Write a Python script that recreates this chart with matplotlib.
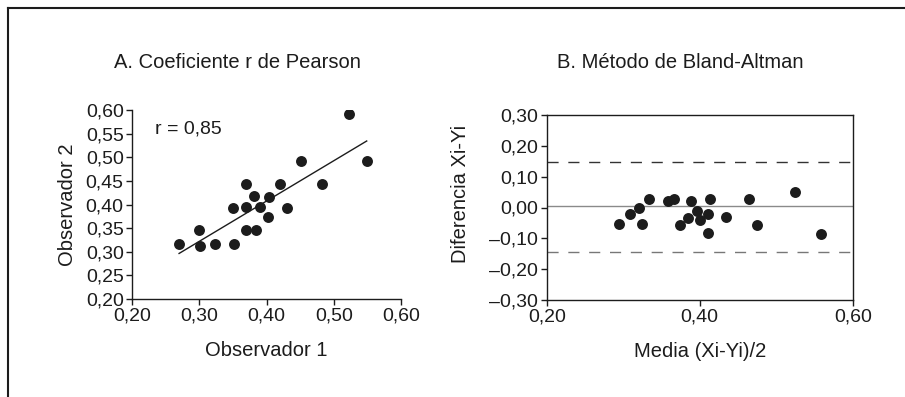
import matplotlib
matplotlib.use("Agg")
import matplotlib.pyplot as plt
import numpy as np
from matplotlib.lines import Line2D
from matplotlib.ticker import FuncFormatter, MultipleLocator

plt.rcParams["font.family"] = ["Liberation Sans", "DejaVu Sans"]

# Panel A: observer 1 vs observer 2
obs1 = [0.270, 0.300, 0.301, 0.323, 0.351, 0.350, 0.370, 0.370, 0.370, 0.381,
        0.385, 0.391, 0.403, 0.402, 0.420, 0.430, 0.451, 0.482, 0.522, 0.549]
obs2 = [0.316, 0.347, 0.313, 0.316, 0.316, 0.393, 0.444, 0.395, 0.347, 0.418,
        0.347, 0.395, 0.415, 0.374, 0.444, 0.392, 0.493, 0.444, 0.591, 0.493]
r_label = "r = 0,85"

# Panel B: Bland-Altman
ba_mean = [0.294, 0.309, 0.321, 0.324, 0.334, 0.358, 0.366, 0.374, 0.385, 0.388,
           0.396, 0.400, 0.411, 0.411, 0.414, 0.434, 0.465, 0.475, 0.524, 0.559]
ba_diff = [-0.054, -0.021, -0.001, -0.055, 0.026, 0.022, 0.026, -0.056, -0.033, 0.022,
           -0.010, -0.041, -0.021, -0.084, 0.026, -0.032, 0.026, -0.058, 0.050, -0.086]
mean_diff = 0.004
loa_upper = 0.148
loa_lower = -0.144

ink = "#1c1c1c"


def comma_fmt(v, pos):
    if abs(v) < 1e-9:
        v = 0.0
    return f"{v:.2f}".replace(".", ",").replace("-", "\u2013")


fig = plt.figure(figsize=(9.05, 3.97), dpi=100)

# ---- A ----
ax1 = fig.add_axes([132 / 905, 1 - 299 / 397, 269 / 905, 189 / 397])
ax1.scatter(obs1, obs2, s=62, color=ink, zorder=3, linewidths=0)
slope, intercept = np.polyfit(obs1, obs2, 1)
xs = np.array([min(obs1), max(obs1)])
ax1.plot(xs, slope * xs + intercept, color=ink, lw=1)
ax1.text(0.234, 0.551, r_label, fontsize=14, color=ink, va="baseline")

ax1.set_xlim(0.20, 0.60)
ax1.set_ylim(0.20, 0.60)
ax1.xaxis.set_major_locator(MultipleLocator(0.10))
ax1.yaxis.set_major_locator(MultipleLocator(0.05))
ax1.spines[["top", "right"]].set_visible(False)
ax1.set_xlabel("Observador 1", fontsize=14.5, color=ink, labelpad=12)
ax1.set_ylabel("Observador 2", fontsize=14.5, color=ink, labelpad=6)

# ---- B ----
ax2 = fig.add_axes([546.7 / 905, 1 - 300 / 397, 306 / 905, 185 / 397])
ax2.scatter(ba_mean, ba_diff, s=62, color=ink, zorder=3, linewidths=0)
ax2.axhline(mean_diff, color="#8a8a8a", lw=1)
ax2.axhline(loa_upper, color="#333333", lw=1, ls=(0, (8, 7)))
ax2.axhline(loa_lower, color="#777777", lw=1, ls=(0, (8, 7)))

ax2.set_xlim(0.20, 0.60)
ax2.set_ylim(-0.30, 0.30)
ax2.xaxis.set_major_locator(MultipleLocator(0.20))
ax2.yaxis.set_major_locator(MultipleLocator(0.10))
ax2.set_xlabel("Media (Xi-Yi)/2", fontsize=14.5, color=ink, labelpad=12)

for ax in (ax1, ax2):
    ax.xaxis.set_major_formatter(FuncFormatter(comma_fmt))
    ax.yaxis.set_major_formatter(FuncFormatter(comma_fmt))
    ax.tick_params(direction="out", length=4, width=1, color=ink,
                   labelsize=14, labelcolor=ink, pad=2)
    for sp in ax.spines.values():
        sp.set_color(ink)
        sp.set_linewidth(1)

fig.text(460 / 905, 1 - 194 / 397, "Diferencia Xi-Yi", rotation=90,
         fontsize=14.5, color=ink, ha="center", va="center")

fig.text(237 / 905, 1 - 62 / 397, "A. Coeficiente r de Pearson",
         fontsize=14.5, color=ink, ha="center", va="center")
fig.text(680 / 905, 1 - 62 / 397, "B. Método de Bland-Altman",
         fontsize=14.5, color=ink, ha="center", va="center")

# frame
fig.add_artist(Line2D([8 / 905, 1], [1 - 8 / 397, 1 - 8 / 397],
                      transform=fig.transFigure, color=ink, lw=1.5))
fig.add_artist(Line2D([8 / 905, 8 / 905], [0, 1 - 8 / 397],
                      transform=fig.transFigure, color=ink, lw=1.5))

fig.savefig("out.png", dpi=100)
